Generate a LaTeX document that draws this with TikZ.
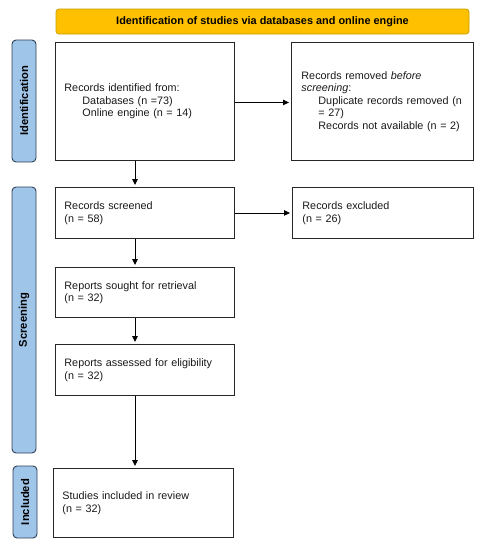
\documentclass[tikz,border=0pt]{standalone}
\usepackage{fontspec}
\setmainfont{Liberation Sans}
\usetikzlibrary{arrows.meta,calc}
\definecolor{bannerfill}{HTML}{FFC000}
\definecolor{bannerdraw}{HTML}{C8A000}
\definecolor{sidefill}{HTML}{9FC5E8}
\definecolor{sidedraw}{HTML}{2F3F55}
\definecolor{boxdraw}{HTML}{262626}
\begin{document}
\begin{tikzpicture}[x=1pt,y=-1pt,
  box/.style={draw=boxdraw, line width=0.9pt, rectangle, anchor=north west, align=left,
    inner xsep=9pt, inner ysep=0pt, font=\fontsize{10.8}{12.5}\selectfont, text=black!90},
  sidelab/.style={draw=sidedraw, fill=sidefill, line width=0.9pt, rounded corners=4pt,
    rotate=90, minimum height=24pt, inner sep=0pt, font=\bfseries\fontsize{11.2}{12}\selectfont},
  banner/.style={draw=bannerdraw, fill=bannerfill, line width=0.8pt, rounded corners=3pt,
    minimum width=413pt, minimum height=25pt, inner sep=0pt, font=\bfseries\fontsize{10.9}{12}\selectfont},
  arr/.style={line width=0.9pt, -{Triangle[length=6pt,width=5.5pt]}, shorten >=2pt}
]
\useasboundingbox (0,0) rectangle (483,550);

\node[banner] (ban) at (262.5,21.5) {Identification of studies via databases and online engine};

\node[sidelab, minimum width=122pt] (lid) at (24,101) {Identification};
\node[sidelab, minimum width=266pt] (lscr) at (24,320) {Screening};
\node[sidelab, minimum width=72pt] (linc) at (25,502) {Included};

\node[box, text width=161pt, minimum height=118pt] (b1) at (55,42)
  {Records identified from:\\\hspace*{18pt}Databases (n =73)\\\hspace*{18pt}Online engine (n = 14)};
\node[box, text width=162pt, minimum height=118pt, inner xsep=10pt] (b2) at (291,42)
  {Records removed \textit{before}\\\textit{screening}:\\\hspace*{17pt}Duplicate records removed (n\\\hspace*{17pt}= 27)\\\hspace*{17pt}Records not available (n = 2)};

\node[box, text width=161pt, minimum height=51pt] (scr) at (55,187) {Records screened\\(n = 58)};
\node[box, text width=161pt, minimum height=51pt, inner xsep=10pt] (exc) at (292,187) {Records excluded\\(n = 26)};
\node[box, text width=161pt, minimum height=50pt] (sou) at (55,267) {Reports sought for retrieval\\(n = 32)};
\node[box, text width=161pt, minimum height=51pt] (ass) at (55,344) {Reports assessed for eligibility\\(n = 32)};
\node[box, text width=162pt, minimum height=69pt] (inc) at (53,468) {Studies included in review\\(n = 32)};

\coordinate (ax) at (135,0);
\draw[arr] ([yshift=-1pt]b1.east) -- ([yshift=-1pt]b2.west);
\draw[arr] (scr.east) -- (exc.west);
\draw[arr] (b1.south -| ax) -- (scr.north -| ax);
\draw[arr] (scr.south -| ax) -- (sou.north -| ax);
\draw[arr] (sou.south -| ax) -- (ass.north -| ax);
\draw[arr] (ass.south -| ax) -- (inc.north -| ax);
\end{tikzpicture}
\end{document}
